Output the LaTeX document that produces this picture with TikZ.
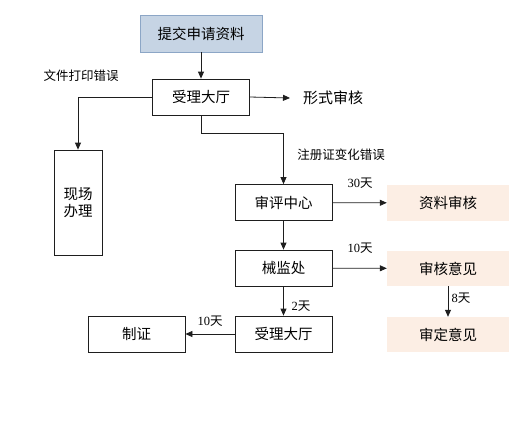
\documentclass[tikz,border=0pt]{standalone}
\usepackage{fontspec}
\setmainfont{Liberation Serif}
\newfontfamily\cjk{Noto Sans CJK SC}
\usetikzlibrary{arrows.meta}
\definecolor{bluefill}{RGB}{198,212,228}
\definecolor{blueline}{RGB}{140,166,198}
\definecolor{pinkfill}{RGB}{252,238,228}
\definecolor{linecol}{RGB}{30,30,30}
\tikzset{
  box/.style={draw=linecol, line width=0.8pt, minimum width=97pt, minimum height=36pt, inner sep=0pt, font=\cjk\fontsize{14.5}{17}\selectfont},
  topbox/.style={box, draw=blueline, fill=bluefill, minimum width=122pt, minimum height=37pt},
  pinkbox/.style={fill=pinkfill, minimum width=122pt, minimum height=36pt, inner sep=0pt, font=\cjk\fontsize{14.5}{17}\selectfont},
  lbl/.style={inner sep=0pt, font=\cjk\fontsize{12.5}{14}\selectfont},
  arr/.style={draw=linecol, line width=0.8pt, -{Triangle[length=7pt,width=6pt]}},
  ln/.style={draw=linecol, line width=0.8pt}
}
\begin{document}
\begin{tikzpicture}[x=1pt,y=-1pt]
\useasboundingbox (0,0) rectangle (525,429);
\node[topbox] (tj) at (201,33.5) {提交申请资料};
\node[box] (sl1) at (201,97) {受理大厅};
\node[box, minimum width=48pt, minimum height=105pt, align=center] (xc) at (78,202.5) {现场\\办理};
\node[inner sep=0pt, font=\cjk\fontsize{15}{17}\selectfont] (xs) at (333,98) {形式审核};
\node[box] (sp) at (283.5,202.5) {审评中心};
\node[pinkbox] (zl) at (448,203) {资料审核};
\node[box] (xj) at (283.5,268) {械监处};
\node[pinkbox, minimum height=35pt] (sh) at (448,268.5) {审核意见};
\node[pinkbox, minimum height=35pt] (sd) at (448,334.5) {审定意见};
\node[box] (sl2) at (283.5,334) {受理大厅};
\node[box] (zz) at (136.5,334) {制证};
\coordinate (bend) at (201,133);
\coordinate (xsin) at (290,98);
% labels
\node[lbl] (l1) at (81,76) {文件打印错误};
\node[lbl] (l2) at (341,155) {注册证变化错误};
\node[lbl] (l3) at (360,183) {{\rmfamily 30}天};
\node[lbl] (l4) at (360,248) {{\rmfamily 10}天};
\node[lbl] (l5) at (461,298) {{\rmfamily 8}天};
\node[lbl] (l6) at (301,306) {{\rmfamily 2}天};
\node[lbl] (l7) at (210,321) {{\rmfamily 10}天};
% connectors
\draw[arr] (tj) -- (sl1);
\draw[arr] (sl1.west) -| (xc.north);
\draw[arr] (sl1.east) -- (xsin);
\draw[ln] (sl1.south) -- (bend);
\draw[arr] (bend) -| (sp.north);
\draw[arr] (sp) -- (zl);
\draw[arr] (sp) -- (xj);
\draw[arr] (xj) -- (sh);
\draw[arr] (sh) -- (sd);
\draw[arr] (xj) -- (sl2);
\draw[arr] (sl2) -- (zz);
\end{tikzpicture}
\end{document}
